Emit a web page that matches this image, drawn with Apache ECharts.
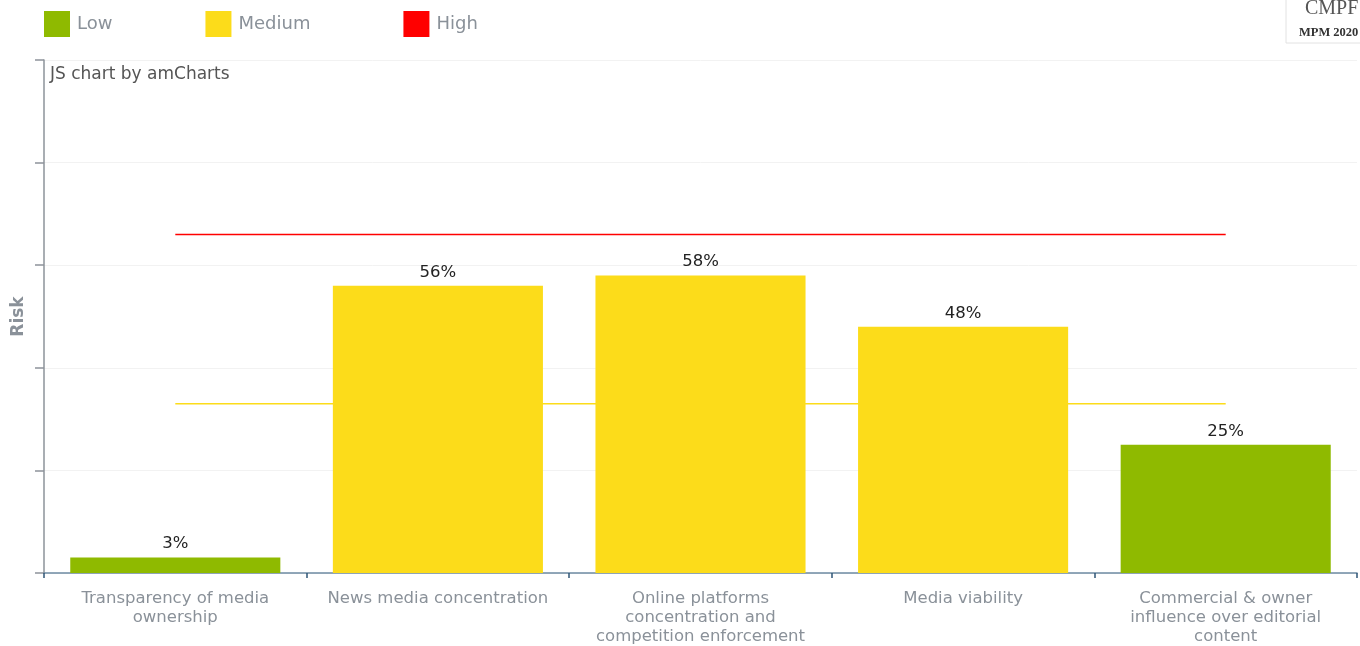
<!DOCTYPE html>
<html><head><meta charset="utf-8">
<script src="https://cdn.jsdelivr.net/npm/echarts@6/dist/echarts.min.js"></script>
<style>html,body{margin:0;padding:0;background:#fff}#c{width:1360px;height:646px}</style>
</head><body><div id="c"></div>
<script>
const categories = [
  'Transparency of media\nownership',
  'News media concentration',
  'Online platforms\nconcentration and\ncompetition enforcement',
  'Media viability',
  'Commercial & owner\ninfluence over editorial\ncontent'
];
const riskValues = [3, 56, 58, 48, 25];
const riskLevels = ['Low', 'Medium', 'Medium', 'Medium', 'Low'];
const levelNames = ['Low', 'Medium', 'High'];
const levelColors = ['#8fba00', '#fcdc1a', '#ff0000'];
const highThreshold = 66;
const mediumThreshold = 33;

const font = '"DejaVu Sans", Verdana, sans-serif';
const gray = '#8a9199';

const barSeries = levelNames.map((lvl, i) => ({
  name: lvl, type: 'bar', stack: 'risk', barWidth: '80%', z: 3,
  itemStyle: { color: levelColors[i] },
  label: { show: true, position: 'top', distance: 5, formatter: '{c}%', color: '#222', fontSize: 16.5, fontFamily: font },
  data: riskValues.map((v, k) => riskLevels[k] === lvl ? v : '-')
}));

const lineSeries = [
  { name: 'highLine', value: highThreshold, color: '#ff0000' },
  { name: 'mediumLine', value: mediumThreshold, color: '#fcdc1a' }
].map(l => ({
  name: l.name, type: 'line', z: 1, symbol: 'none', silent: true,
  lineStyle: { color: l.color, width: 1.5 },
  data: categories.map(() => l.value)
}));

const chart = echarts.init(document.getElementById('c'));
chart.setOption({
  animation: false,
  textStyle: { fontFamily: font },
  legend: {
    data: levelNames, left: 39, top: 6, itemWidth: 26, itemHeight: 26, itemGap: 93,
    icon: 'rect', selectedMode: false,
    textStyle: { color: gray, fontSize: 18, fontFamily: font, padding: [0, 0, 0, 2] }
  },
  grid: { left: 44, right: 3, top: 60, bottom: 70 },
  xAxis: {
    type: 'category', data: categories,
    axisLine: { lineStyle: { color: '#6e8aa3', width: 1.5 } },
    axisTick: { show: true, length: 5, lineStyle: { color: '#2f5577', width: 1.5 } },
    axisLabel: { color: gray, fontSize: 16.5, lineHeight: 19, margin: 16, interval: 0, fontFamily: font }
  },
  yAxis: {
    type: 'value', min: 0, max: 100, interval: 20,
    name: 'Risk', nameLocation: 'middle', nameGap: 17, nameRotate: 90,
    nameTextStyle: { color: gray, fontSize: 17, fontWeight: 'bold', fontFamily: font },
    axisLine: { show: true, lineStyle: { color: '#8d939a', width: 1.5 } },
    axisTick: { show: true, length: 9, lineStyle: { color: '#8d939a', width: 1.5 } },
    axisLabel: { show: false },
    splitLine: { lineStyle: { color: '#f2f2f2' } }
  },
  graphic: [
    { type: 'text', left: 50, top: 66, style: { text: 'JS chart by amCharts', fill: '#555', font: '17px ' + font } },
    { type: 'rect', shape: { x: 1286, y: -2, width: 80, height: 45 }, style: { fill: '#fff', stroke: '#e2e2e2', lineWidth: 1 } },
    { type: 'text', left: 1305, top: -1, style: { text: 'CMPF', fill: '#555', font: '20px "Liberation Serif", "DejaVu Serif", serif' } },
    { type: 'text', left: 1299, top: 26, style: { text: 'MPM 2020', fill: '#333', font: 'bold 12.5px "Liberation Serif", "DejaVu Serif", serif' } }
  ],
  series: [...lineSeries, ...barSeries]
});
</script></body></html>
